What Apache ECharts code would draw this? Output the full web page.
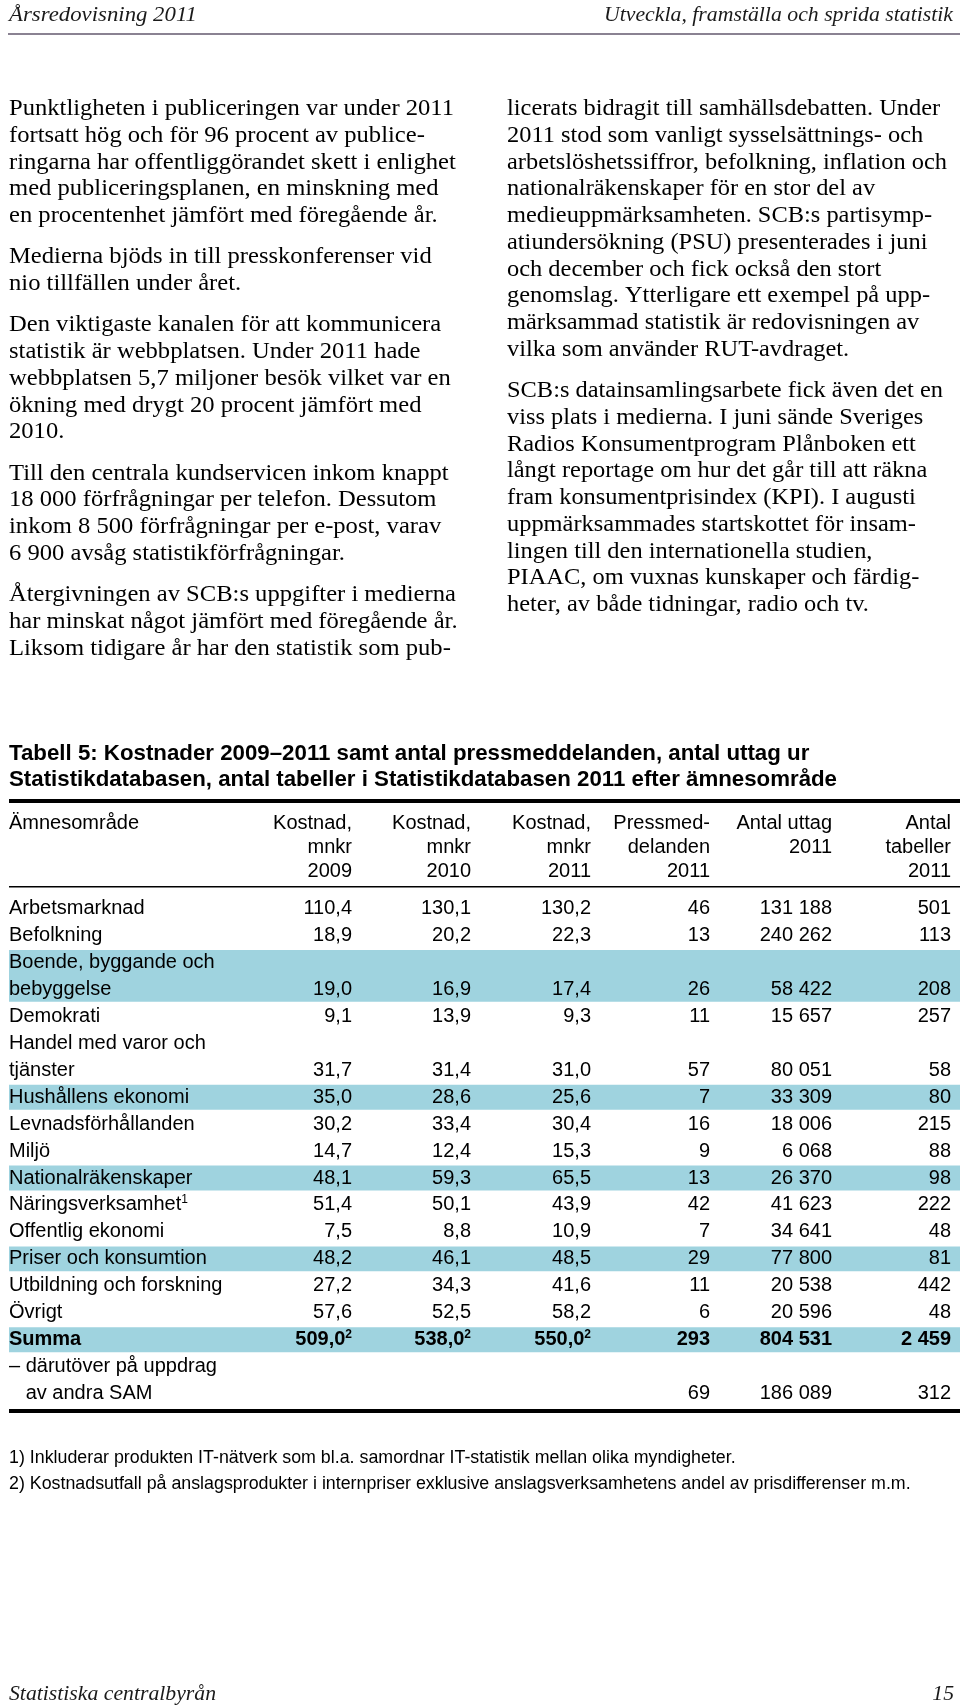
<!DOCTYPE html>
<html><head><meta charset="utf-8">
<script src="https://cdn.jsdelivr.net/npm/echarts/dist/echarts.min.js"></script>
<style>html,body{margin:0;padding:0;background:#fff}#c{width:960px;height:1708px}</style>
</head><body><div id="c"></div>
<script>
// ---------------- DATA ----------------
const headerLeft = 'Årsredovisning 2011';
const headerRight = 'Utveckla, framställa och sprida statistik';
const footerLeft = 'Statistiska centralbyrån';
const footerRight = '15';

const leftColumn = [
  ['Punktligheten i publiceringen var under 2011', 'fortsatt hög och för 96 procent av publice-', 'ringarna har offentliggörandet skett i enlighet', 'med publiceringsplanen, en minskning med', 'en procentenhet jämfört med föregående år.'],
  ['Medierna bjöds in till presskonferenser vid', 'nio tillfällen under året.'],
  ['Den viktigaste kanalen för att kommunicera', 'statistik är webbplatsen. Under 2011 hade', 'webbplatsen 5,7 miljoner besök vilket var en', 'ökning med drygt 20 procent jämfört med', '2010.'],
  ['Till den centrala kundservicen inkom knappt', '18 000 förfrågningar per telefon. Dessutom', 'inkom 8 500 förfrågningar per e-post, varav', '6 900 avsåg statistikförfrågningar.'],
  ['Återgivningen av SCB:s uppgifter i medierna', 'har minskat något jämfört med föregående år.', 'Liksom tidigare år har den statistik som pub-']
];
const rightColumn = [
  ['licerats bidragit till samhällsdebatten. Under', '2011 stod som vanligt sysselsättnings- och', 'arbetslöshetssiffror, befolkning, inflation och', 'nationalräkenskaper för en stor del av', 'medieuppmärksamheten. SCB:s partisymp-', 'atiundersökning (PSU) presenterades i juni', 'och december och fick också den stort', 'genomslag. Ytterligare ett exempel på upp-', 'märksammad statistik är redovisningen av', 'vilka som använder RUT-avdraget.'],
  ['SCB:s datainsamlingsarbete fick även det en', 'viss plats i medierna. I juni sände Sveriges', 'Radios Konsumentprogram Plånboken ett', 'långt reportage om hur det går till att räkna', 'fram konsumentprisindex (KPI). I augusti', 'uppmärksammades startskottet för insam-', 'lingen till den internationella studien,', 'PIAAC, om vuxnas kunskaper och färdig-', 'heter, av både tidningar, radio och tv.']
];

const tableTitle = ['Tabell 5: Kostnader 2009–2011 samt antal pressmeddelanden, antal uttag ur', 'Statistikdatabasen, antal tabeller i Statistikdatabasen 2011 efter ämnesområde'];
const columnHeaders = [['Ämnesområde'], ['Kostnad,', 'mnkr', '2009'], ['Kostnad,', 'mnkr', '2010'], ['Kostnad,', 'mnkr', '2011'], ['Pressmed-', 'delanden', '2011'], ['Antal uttag', '2011'], ['Antal', 'tabeller', '2011']];

const categories = [['Arbetsmarknad'], ['Befolkning'], ['Boende, byggande och', 'bebyggelse'], ['Demokrati'], ['Handel med varor och', 'tjänster'], ['Hushållens ekonomi'], ['Levnadsförhållanden'], ['Miljö'], ['Nationalräkenskaper'], ['Näringsverksamhet'], ['Offentlig ekonomi'], ['Priser och konsumtion'], ['Utbildning och forskning'], ['Övrigt'], ['Summa'], ['– därutöver på uppdrag', 'av andra SAM']];
const categoryNotes = ['', '', '', '', '', '', '', '', '', '1', '', '', '', '', '', ''];
const cost2009 = [110.4, 18.9, 19.0, 9.1, 31.7, 35.0, 30.2, 14.7, 48.1, 51.4, 7.5, 48.2, 27.2, 57.6, 509.0, null];
const cost2010 = [130.1, 20.2, 16.9, 13.9, 31.4, 28.6, 33.4, 12.4, 59.3, 50.1, 8.8, 46.1, 34.3, 52.5, 538.0, null];
const cost2011 = [130.2, 22.3, 17.4, 9.3, 31.0, 25.6, 30.4, 15.3, 65.5, 43.9, 10.9, 48.5, 41.6, 58.2, 550.0, null];
const costNotes = ['', '', '', '', '', '', '', '', '', '', '', '', '', '', '2', ''];
const pressReleases = [46, 13, 26, 11, 57, 7, 16, 9, 13, 42, 7, 29, 11, 6, 293, 69];
const dbExtracts = [131188, 240262, 58422, 15657, 80051, 33309, 18006, 6068, 26370, 41623, 34641, 77800, 20538, 20596, 804531, 186089];
const dbTables = [501, 113, 208, 257, 58, 80, 215, 88, 98, 222, 48, 81, 442, 48, 2459, 312];

const footnotes = ['1) Inkluderar produkten IT-nätverk som bl.a. samordnar IT-statistik mellan olika myndigheter.', '2) Kostnadsutfall på anslagsprodukter i internpriser exklusive anslagsverksamhetens andel av prisdifferenser m.m.'];

// ---------------- STYLE / LAYOUT ----------------
const SERIF = '"Liberation Serif", "DejaVu Serif", serif';
const SANS = '"Liberation Sans", Arial, sans-serif';
const BAND = '#9fd3df';
const highlightRows = [2, 5, 8, 11, 14];
const boldRows = [14];
const colEdges = [352, 471, 591, 710, 832, 951];
const SLOT = 26.95;
const FIRST_SLOT_Y = 908.5;

const mctx = document.createElement('canvas').getContext('2d');
function measure(t, f) { mctx.font = f; return mctx.measureText(t).width; }

function txt(x, y, text, font, opt) {
  opt = opt || {};
  return {
    type: 'text', x: x, y: y, silent: true,
    scaleX: opt.scaleX || 1,
    style: {
      text: text, font: font, fill: opt.fill || '#000',
      textAlign: opt.align || 'left', align: opt.align || 'left',
      textVerticalAlign: 'middle', verticalAlign: 'middle',
      rich: opt.rich
    }
  };
}

const fmtDec = v => v.toFixed(1).replace('.', ',');
const fmtInt = v => String(v).replace(/\B(?=(\d{3})+(?!\d))/g, ' ');

const elements = [];

// Page header
const hFont = 'italic 21px ' + SERIF;
elements.push(txt(9, 15, headerLeft, hFont, {fill: '#1a1a1a', scaleX: 188 / measure(headerLeft, hFont)}));
elements.push(txt(953, 15, headerRight, hFont, {fill: '#1a1a1a', align: 'right', scaleX: 349 / measure(headerRight, hFont)}));
elements.push({type: 'rect', silent: true, shape: {x: 8, y: 33, width: 952, height: 2}, style: {fill: '#8a8292'}});

// Body text columns
const bodyFont = '23px ' + SERIF;
function addColumn(paras, x, fitLine, fitWidth) {
  const sx = fitWidth / measure(fitLine, bodyFont);
  let y = 109;
  paras.forEach((p, pi) => {
    if (pi > 0) y += 14.5;
    p.forEach(line => {
      elements.push(txt(x, y, line, bodyFont, {fill: '#000', scaleX: sx}));
      y += 26.75;
    });
  });
}
addColumn(leftColumn, 9, leftColumn[0][0], 445);
addColumn(rightColumn, 507, rightColumn[0][2], 440);

// Table title
const tFont = 'bold 22px ' + SANS;
const tsx = 828 / measure(tableTitle[1], tFont);
tableTitle.forEach((t, i) => elements.push(txt(9, 754 + i * 26, t, tFont, {scaleX: tsx})));

// Table rules
elements.push({type: 'rect', silent: true, shape: {x: 9, y: 799, width: 951, height: 4}, style: {fill: '#000'}});
elements.push({type: 'rect', silent: true, shape: {x: 9, y: 886, width: 951, height: 1.6}, style: {fill: '#000'}});
elements.push({type: 'rect', silent: true, shape: {x: 9, y: 1409, width: 951, height: 4}, style: {fill: '#000'}});

// Column headers (top aligned lines)
const cFont = '20px ' + SANS;
columnHeaders.forEach((lines, ci) => {
  lines.forEach((l, li) => {
    if (ci === 0) elements.push(txt(9, 823 + li * 24, l, cFont));
    else elements.push(txt(colEdges[ci - 1], 823 + li * 24, l, cFont, {align: 'right'}));
  });
});

// Footnotes
const fnSize = 18 * 727 / measure(footnotes[0], '18px ' + SANS);
footnotes.forEach((f, i) => elements.push(txt(9, 1458 + i * 26, f, fnSize.toFixed(2) + 'px ' + SANS)));

// Footer
const fFont = 'italic 21px ' + SERIF;
const fsx = 207 / measure(footerLeft, fFont);
elements.push(txt(9, 1694, footerLeft, fFont, {fill: '#1a1a1a', scaleX: fsx}));
elements.push(txt(954, 1694, footerRight, fFont, {fill: '#1a1a1a', align: 'right', scaleX: fsx}));

// ---------------- TABLE BODY (custom series) ----------------
const rowSlot = [];
let acc = 0;
categories.forEach(c => { rowSlot.push(acc); acc += c.length; });
const totalSlots = acc;

function renderRow(params, api) {
  const i = api.value(2);
  const s0 = api.value(1);
  const lines = categories[i];
  const n = lines.length;
  const bold = boldRows.indexOf(i) >= 0;
  const font = (bold ? 'bold ' : '') + '20px ' + SANS;
  const supFont = (bold ? 'bold ' : '') + '12px ' + SANS;
  const rich = {v: {font: font, lineHeight: 22}, s: {font: supFont, lineHeight: 12, verticalAlign: 'top'}};
  const X = v => api.coord([v, s0])[0];
  const Y = k => api.coord([0, k])[1];
  const ch = [];
  if (highlightRows.indexOf(i) >= 0) {
    const top = Y(s0 - 0.5) + 1, bot = Y(s0 + n - 0.5) - 1;
    ch.push({type: 'rect', shape: {x: X(9), y: top, width: X(960) - X(9), height: bot - top}, style: {fill: BAND}});
  }
  const indent = lines[0].charAt(0) === '–' ? measure('– ', font) : 0;
  lines.forEach((l, li) => {
    const t = categoryNotes[i] && li === n - 1 ? '{v|' + l + '}{s|' + categoryNotes[i] + '}' : '{v|' + l + '}';
    ch.push(txt(X(9) + (li > 0 ? indent : 0), Y(s0 + li), t, font, {rich: rich}));
  });
  const vy = Y(s0 + n - 1);
  const cells = [
    cost2009[i] == null ? '' : fmtDec(cost2009[i]),
    cost2010[i] == null ? '' : fmtDec(cost2010[i]),
    cost2011[i] == null ? '' : fmtDec(cost2011[i]),
    fmtInt(pressReleases[i]), fmtInt(dbExtracts[i]), fmtInt(dbTables[i])
  ];
  cells.forEach((c, ci) => {
    if (!c) return;
    const t = ci < 3 && costNotes[i] ? '{v|' + c + '}{s|' + costNotes[i] + '}' : '{v|' + c + '}';
    ch.push(txt(X(colEdges[ci]), vy, t, font, {align: 'right', rich: rich}));
  });
  return {type: 'group', children: ch};
}

const chart = echarts.init(document.getElementById('c'), null, {renderer: 'canvas', width: 960, height: 1708});
chart.setOption({
  animation: false,
  backgroundColor: '#fff',
  grid: {left: 0, right: 0, top: FIRST_SLOT_Y - SLOT / 2, height: SLOT * totalSlots + 0.001},
  xAxis: {type: 'value', min: 0, max: 960, show: false},
  yAxis: {type: 'value', min: -0.5, max: totalSlots - 0.5, inverse: true, show: false},
  series: [{
    type: 'custom', clip: false, silent: true,
    encode: {x: 0, y: 1},
    data: categories.map((c, i) => [0, rowSlot[i], i]),
    renderItem: renderRow
  }],
  graphic: {elements: elements}
});
</script></body></html>
